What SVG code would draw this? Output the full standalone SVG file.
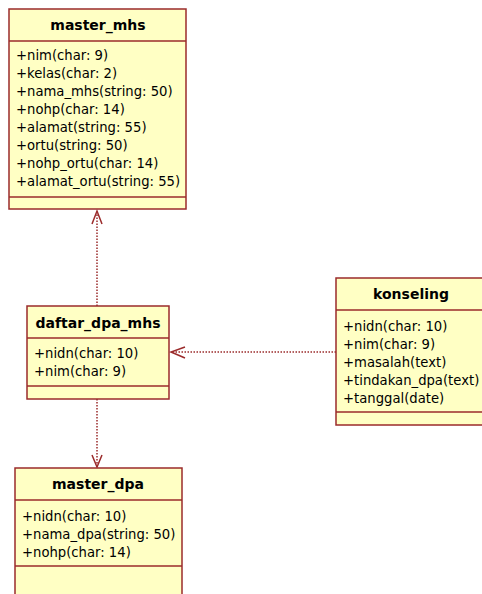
<svg xmlns="http://www.w3.org/2000/svg" width="482" height="594" viewBox="0 0 482 594">
<style>
.box{fill:#FFFFC4;stroke:#9B2B2B;stroke-width:1.5}
.sep{stroke:#9B2B2B;stroke-width:1.5}
.t{font-family:"DejaVu Sans",Verdana,sans-serif;font-size:13.2px;fill:#000}
.h{font-family:"DejaVu Sans",Verdana,sans-serif;font-size:14px;font-weight:bold;fill:#000;text-anchor:middle}
.c{stroke:#9B2B2B;stroke-width:1.5;stroke-dasharray:1.5 1.5;fill:none}
.a{stroke:#9B2B2B;stroke-width:1.5;fill:none}
</style>
<rect width="482" height="594" fill="#fff"/>
<g id="connectors">
<line class="c" x1="97" y1="306" x2="97" y2="211"/>
<polyline class="a" points="92,224 97,211 102,224"/>
<line class="c" x1="336" y1="352" x2="171" y2="352"/>
<polyline class="a" points="185,347 171,352 185,358"/>
<line class="c" x1="97" y1="399" x2="97" y2="467"/>
<polyline class="a" points="92,455 97,467 102,455"/>
</g>
<g id="master_mhs">
<rect class="box" x="9" y="9" width="177" height="200"/>
<line class="sep" x1="9" y1="41" x2="186" y2="41"/>
<line class="sep" x1="9" y1="197" x2="186" y2="197"/>
<text class="h" x="98" y="30">master_mhs</text>
<text class="t" x="16" y="60">+nim(char: 9)</text>
<text class="t" x="16" y="78">+kelas(char: 2)</text>
<text class="t" x="16" y="96">+nama_mhs(string: 50)</text>
<text class="t" x="16" y="114">+nohp(char: 14)</text>
<text class="t" x="16" y="132">+alamat(string: 55)</text>
<text class="t" x="16" y="150">+ortu(string: 50)</text>
<text class="t" x="16" y="168">+nohp_ortu(char: 14)</text>
<text class="t" x="16" y="186">+alamat_ortu(string: 55)</text>
</g>
<g id="daftar_dpa_mhs">
<rect class="box" x="27" y="306" width="142" height="93"/>
<line class="sep" x1="27" y1="338" x2="169" y2="338"/>
<line class="sep" x1="27" y1="386" x2="169" y2="386"/>
<text class="h" x="98" y="328">daftar_dpa_mhs</text>
<text class="t" x="34" y="358">+nidn(char: 10)</text>
<text class="t" x="34" y="376">+nim(char: 9)</text>
</g>
<g id="konseling">
<rect class="box" x="336" y="278" width="160" height="147"/>
<line class="sep" x1="336" y1="310" x2="496" y2="310"/>
<line class="sep" x1="336" y1="412" x2="496" y2="412"/>
<text class="h" x="411" y="299">konseling</text>
<text class="t" x="343" y="331">+nidn(char: 10)</text>
<text class="t" x="343" y="349">+nim(char: 9)</text>
<text class="t" x="343" y="367">+masalah(text)</text>
<text class="t" x="343" y="385">+tindakan_dpa(text)</text>
<text class="t" x="343" y="403">+tanggal(date)</text>
</g>
<g id="master_dpa">
<rect class="box" x="15" y="468" width="167" height="140"/>
<line class="sep" x1="15" y1="500" x2="182" y2="500"/>
<line class="sep" x1="15" y1="566" x2="182" y2="566"/>
<text class="h" x="98" y="489">master_dpa</text>
<text class="t" x="22" y="521">+nidn(char: 10)</text>
<text class="t" x="22" y="539">+nama_dpa(string: 50)</text>
<text class="t" x="22" y="557">+nohp(char: 14)</text>
</g>
</svg>
